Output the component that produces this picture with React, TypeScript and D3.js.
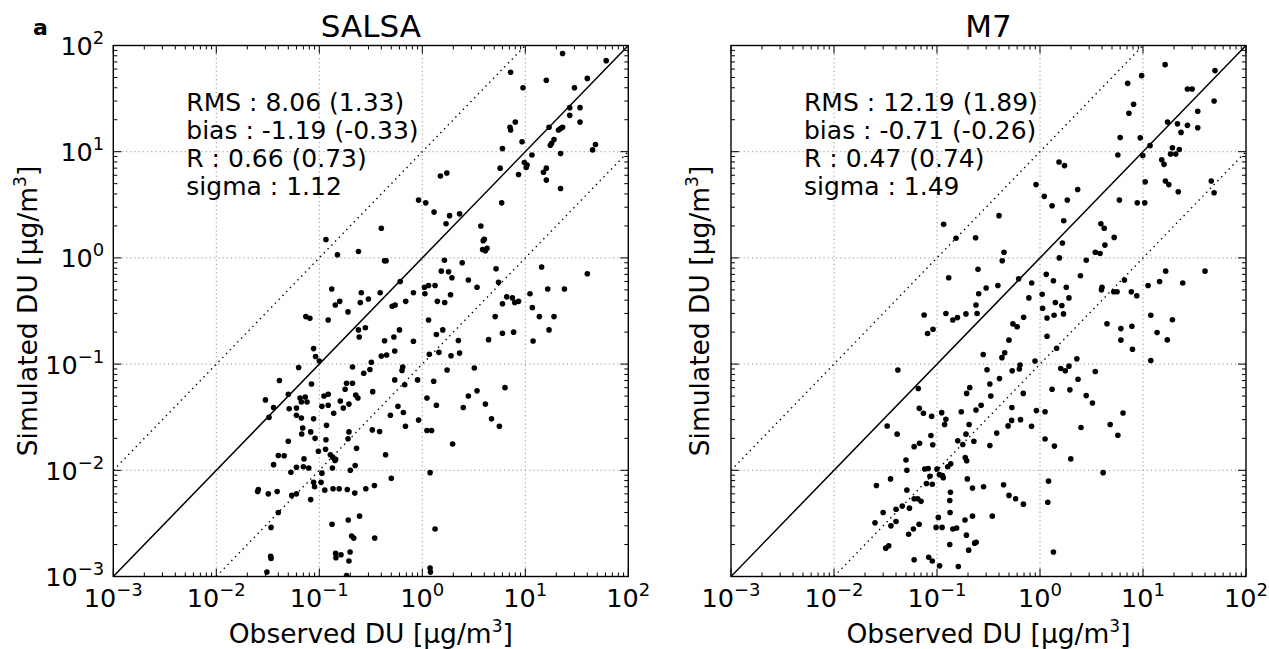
import * as d3 from 'd3'

const W = 1269, H = 649
const TOP = 45.5, BOTTOM = 576.5, PW = 515
const FONT = 'DejaVu Sans'

// decade exponents used for the log axes
const majorExps = [-3, -2, -1, 0, 1, 2]
const minorMult = [2, 3, 4, 5, 6, 7, 8, 9]

const salsaStats = ['RMS : 8.06 (1.33)', 'bias : -1.19 (-0.33)', 'R : 0.66 (0.73)', 'sigma : 1.12']
const m7Stats = ['RMS : 12.19 (1.89)', 'bias : -0.71 (-0.26)', 'R : 0.47 (0.74)', 'sigma : 1.49']

// [observed, simulated] in µg/m3
const salsaPoints: [number, number][] = [
  [23, 84], [61, 72], [7.2, 56], [16, 47], [40, 49], [9.5, 40], [30, 40], [27, 26], [34, 26], [27, 22],
  [34, 19], [8.0, 19], [7.1, 17], [7.2, 16], [17, 17], [23, 17], [21, 16], [22, 16.5], [19, 13], [18, 12],
  [17.5, 11.5], [9.3, 12.4], [48, 11.7], [45, 10.4], [6.0, 10.7], [11.6, 9.3], [22, 9.6], [9.8, 7.9], [10.4, 7.5], [10.2, 7.1],
  [5.7, 7.0], [16, 7.0], [15, 6.4], [16, 5.4], [8.6, 6.1], [22, 4.5], [1.73, 6.3], [1.5, 5.9], [5.9, 3.3], [0.92, 3.5],
  [1.08, 3.3], [1.3, 2.7], [1.84, 2.5], [2.3, 2.6], [1.7, 2.1], [0.40, 1.9], [3.7, 2.0], [4.0, 1.5], [3.9, 1.45], [3.85, 1.2],
  [4.25, 1.23], [4.1, 1.17], [0.116, 1.49], [0.24, 1.15], [0.15, 1.07], [0.43, 0.94], [0.445, 0.94], [1.64, 0.95], [2.44, 0.90], [0.61, 0.60],
  [1.53, 0.75], [1.8, 0.74], [1.94, 0.65], [2.8, 0.62], [5.2, 0.79], [5.5, 0.59], [14.4, 0.82], [40, 0.71], [0.132, 0.51], [0.256, 0.47],
  [0.39, 0.47], [1.05, 0.53], [1.15, 0.55], [1.33, 0.55], [0.82, 0.47], [1.06, 0.46], [1.88, 0.45], [3.4, 0.53], [11.1, 0.46], [16.5, 0.51],
  [24, 0.51], [6.6, 0.43], [7.5, 0.42],
  [0.143, 0.36], [0.158, 0.39], [0.25, 0.38], [0.30, 0.41], [0.51, 0.35], [0.545, 0.36], [0.69, 0.39], [1.4, 0.39], [1.65, 0.38], [6.0, 0.37],
  [7.9, 0.38], [8.6, 0.39], [11.7, 0.34], [0.19, 0.31], [0.074, 0.28], [0.081, 0.27], [0.122, 0.26], [5.1, 0.28], [13.7, 0.28], [19, 0.28],
  [1.15, 0.26], [0.24, 0.21], [0.28, 0.22], [0.244, 0.18], [0.60, 0.21], [1.37, 0.19], [1.58, 0.21], [6.0, 0.195], [7.7, 0.20], [17, 0.21],
  [0.53, 0.18], [0.43, 0.166], [0.82, 0.164], [2.24, 0.167], [4.4, 0.17], [11.9, 0.165], [0.088, 0.14], [0.092, 0.118], [0.54, 0.133], [0.40, 0.119],
  [0.45, 0.122], [1.17, 0.124], [1.45, 0.129], [1.9, 0.12], [2.3, 0.127], [0.10, 0.107], [0.063, 0.093], [0.21, 0.094], [0.32, 0.104], [0.31, 0.089],
  [0.27, 0.082], [0.645, 0.094], [0.635, 0.087], [1.74, 0.088], [3.2, 0.092], [0.041, 0.070], [0.184, 0.066], [0.21, 0.066], [0.54, 0.071], [0.90, 0.071],
  [1.29, 0.069], [0.084, 0.065], [0.675, 0.064], [0.178, 0.058], [0.33, 0.055], [6.35, 0.060], [3.4, 0.056], [0.050, 0.052], [0.030, 0.046], [0.065, 0.048],
  [0.073, 0.049], [0.067, 0.044], [0.076, 0.044], [0.111, 0.050], [0.122, 0.052], [0.226, 0.051], [0.237, 0.048], [0.16, 0.045], [1.11, 0.048], [2.8, 0.050],
  [0.036, 0.039], [0.051, 0.038], [0.060, 0.0385], [0.106, 0.040], [0.122, 0.041], [0.194, 0.042], [0.171, 0.0385], [0.58, 0.040], [1.37, 0.041], [2.5, 0.039],
  [4.1, 0.042], [0.0325, 0.0315], [0.060, 0.033], [0.067, 0.031], [0.088, 0.0305], [0.138, 0.0345], [0.49, 0.033], [0.655, 0.035], [4.7, 0.0305], [5.6, 0.026],
  [0.1175, 0.0265], [0.069, 0.025], [0.0675, 0.022], [0.0825, 0.023], [0.091, 0.020], [0.116, 0.0194], [0.194, 0.023], [0.19, 0.0198], [0.327, 0.024], [0.385, 0.0232],
  [0.686, 0.026], [0.92, 0.0297], [1.11, 0.0237], [1.23, 0.0237], [0.050, 0.0188], [1.97, 0.0177], [0.23, 0.0161], [0.098, 0.0151], [0.115, 0.0158], [0.128, 0.014],
  [0.135, 0.0133], [0.144, 0.0127], [0.142, 0.0124], [0.040, 0.0138], [0.0456, 0.0137], [0.44, 0.014], [0.036, 0.0113], [0.071, 0.0128], [0.060, 0.0107], [0.070, 0.0108],
  [0.079, 0.0105], [0.223, 0.0111], [0.053, 0.0096], [0.134, 0.0105], [0.20, 0.0100], [0.106, 0.0094], [1.19, 0.0095], [0.104, 0.0077], [0.088, 0.0077], [0.090, 0.0070],
  [0.50, 0.0084], [0.0256, 0.0066], [0.0252, 0.0063], [0.032, 0.0060], [0.039, 0.0063], [0.054, 0.0058], [0.060, 0.0060], [0.0825, 0.0053], [0.113, 0.0065], [0.136, 0.0067],
  [0.156, 0.0067], [0.187, 0.0066], [0.221, 0.0061], [0.283, 0.0067], [0.343, 0.0072], [0.040, 0.0040], [0.034, 0.0029], [0.133, 0.0031], [0.191, 0.0034], [0.246, 0.0037],
  [1.33, 0.0028], [0.206, 0.0024], [0.216, 0.0023], [0.345, 0.0023], [0.0337, 0.00155], [0.034, 0.00148], [0.144, 0.00165], [0.1625, 0.0016], [0.145, 0.0015], [0.199, 0.0017],
  [0.194, 0.0014], [0.031, 0.0011], [0.184, 0.00102], [1.19, 0.0012], [1.2, 0.0011],
]

const m7Points: [number, number][] = [
  [16.4, 66], [50, 58], [9.7, 52], [7.1, 44], [27, 39], [30, 39], [49, 30], [8.1, 28], [34, 24], [7.3, 23],
  [17.3, 19], [21.6, 18.3], [27, 17.7], [34, 16.8], [23.4, 15.2], [6.0, 13.6], [9.4, 13.5], [11.7, 11.4], [19.3, 10.9], [22.5, 10.5],
  [18.5, 9.5], [20.8, 9.5], [5.7, 9.3], [9.95, 9.2], [15.2, 8.4], [16, 7.6], [1.53, 8.0], [1.73, 7.4], [10.5, 5.2], [16.5, 5.3],
  [17.8, 4.9], [46, 5.3], [49, 4.1], [22, 4.2], [0.915, 4.9], [2.32, 4.4], [1.1, 3.8], [1.31, 3.1], [1.84, 3.5], [5.9, 3.5],
  [8.8, 3.3], [10.4, 3.3], [0.40, 2.5], [0.116, 2.07], [1.7, 2.24], [3.9, 2.1], [4.2, 1.9], [0.153, 1.53], [0.237, 1.55], [5.25, 1.56],
  [1.65, 1.38], [0.447, 1.13], [0.43, 0.94], [4.27, 1.32], [3.44, 1.13], [3.83, 1.1], [1.54, 1.0], [2.81, 0.95], [0.13, 0.65], [0.25, 0.78],
  [0.62, 0.635], [0.83, 0.58], [1.15, 0.70], [1.35, 0.61], [2.47, 0.68], [6.6, 0.62], [11.2, 0.55], [14.5, 0.60], [16.6, 0.75], [24.3, 0.58],
  [40, 0.75], [0.30, 0.52], [0.39, 0.55], [1.8, 0.53], [4.0, 0.53], [3.95, 0.50], [5.2, 0.48], [5.6, 0.48], [7.7, 0.48], [8.7, 0.44],
  [0.254, 0.46], [0.78, 0.42], [1.05, 0.455], [1.91, 0.42],
  [0.239, 0.36], [1.41, 0.38], [1.63, 0.356], [1.06, 0.336], [0.075, 0.29], [0.122, 0.30], [0.1425, 0.26], [0.158, 0.274], [0.191, 0.297], [0.245, 0.30],
  [1.17, 0.272], [1.37, 0.288], [1.69, 0.297], [0.693, 0.276], [0.546, 0.239], [0.60, 0.225], [4.47, 0.24], [6.1, 0.216], [7.8, 0.227], [11.9, 0.288],
  [19.3, 0.262], [13.7, 0.198], [17.2, 0.169], [6.1, 0.168], [7.9, 0.138], [0.081, 0.194], [0.0915, 0.213], [1.17, 0.183], [0.50, 0.168], [1.45, 0.141],
  [0.454, 0.128], [0.427, 0.115], [0.281, 0.123], [11.9, 0.108], [0.894, 0.107], [2.28, 0.112], [0.64, 0.098], [0.63, 0.090], [0.537, 0.0865], [1.59, 0.091],
  [1.76, 0.0866], [1.91, 0.0957], [3.44, 0.0853], [0.0417, 0.088], [0.306, 0.0884], [0.404, 0.073], [2.34, 0.072], [0.0658, 0.059], [0.208, 0.060], [0.194, 0.053],
  [0.326, 0.065], [0.333, 0.050], [1.31, 0.058], [1.95, 0.0572], [2.81, 0.0505], [0.688, 0.053], [3.23, 0.043], [0.0673, 0.0383], [0.0738, 0.0344], [0.0887, 0.0322],
  [0.111, 0.0349], [0.122, 0.0302], [0.1185, 0.027], [0.172, 0.0356], [0.239, 0.037], [0.268, 0.041], [0.533, 0.039], [0.922, 0.0365], [1.12, 0.0356], [6.4, 0.0346],
  [0.0328, 0.0261], [0.205, 0.027], [0.49, 0.0262], [0.53, 0.0295], [0.647, 0.030], [0.828, 0.026], [2.5, 0.0253], [4.8, 0.027], [5.7, 0.0214], [0.041, 0.0219],
  [0.0873, 0.0213], [0.191, 0.0219], [0.38, 0.0224], [1.12, 0.0197], [0.0677, 0.018], [0.060, 0.0167], [0.091, 0.0174], [0.159, 0.019], [0.178, 0.0175], [0.228, 0.0188],
  [0.326, 0.0171], [1.38, 0.0169], [0.050, 0.0125], [0.188, 0.0132], [0.194, 0.0123], [1.99, 0.0128], [0.051, 0.0100], [0.076, 0.0103], [0.082, 0.0104], [0.100, 0.0103],
  [0.127, 0.0108], [0.136, 0.0115], [0.1055, 0.0091], [0.113, 0.0089], [0.115, 0.0085], [0.0853, 0.0088], [4.1, 0.0095], [0.0258, 0.0072], [0.0354, 0.0083], [0.079, 0.0075],
  [0.090, 0.0074], [0.197, 0.0083], [0.221, 0.0068], [0.283, 0.0070], [0.443, 0.0073], [1.21, 0.0079], [0.051, 0.0065], [0.060, 0.0054], [0.065, 0.0054], [0.070, 0.0051],
  [0.135, 0.0062], [0.133, 0.0052], [0.50, 0.0058], [0.58, 0.0054], [0.69, 0.0048], [1.19, 0.0050], [0.030, 0.0040], [0.040, 0.0043], [0.046, 0.0046], [0.054, 0.0044],
  [0.134, 0.0040], [0.025, 0.0032], [0.0357, 0.0030], [0.040, 0.0033], [0.067, 0.0031], [0.059, 0.0028], [0.053, 0.0025], [0.103, 0.0036], [0.098, 0.0029], [0.112, 0.0029],
  [0.1425, 0.0028], [0.155, 0.00286], [0.187, 0.0034], [0.221, 0.0037], [0.344, 0.0037], [0.193, 0.00245], [0.0318, 0.00185], [0.034, 0.00195], [0.133, 0.0020], [0.203, 0.00177],
  [0.232, 0.00206], [0.24, 0.0021], [0.060, 0.00144], [0.083, 0.00152], [0.090, 0.0014], [0.106, 0.00126], [0.161, 0.00124], [1.35, 0.0017],
]

// exponent text as matplotlib's mathtext writes it (true minus sign)
const expLabel = (e: number) => (e < 0 ? '\u2212' + Math.abs(e) : String(e))

interface PanelProps {
  id: string
  x0: number
  title: string
  points: [number, number][]
  stats: string[]
  yTickLabels: boolean
}

function Panel({ id, x0, title, points, stats, yTickLabels }: PanelProps) {
  const x = d3.scaleLog().domain([1e-3, 1e2]).range([x0, x0 + PW])
  const y = d3.scaleLog().domain([1e-3, 1e2]).range([BOTTOM, TOP])
  const majors = majorExps.map(e => Math.pow(10, e))
  const minors = majorExps.slice(0, -1).flatMap(e => minorMult.map(m => m * Math.pow(10, e)))
  const line = d3.line<[number, number]>().x(d => x(d[0])).y(d => y(d[1]))
  const cx = x0 + PW / 2

  return (
    <g>
      <defs>
        <clipPath id={id}>
          <rect x={x0} y={TOP} width={PW} height={BOTTOM - TOP} />
        </clipPath>
      </defs>
      {/* grid */}
      {majors.slice(1, -1).map(v => (
        <g key={'g' + v} stroke="#777" strokeWidth={0.8} strokeDasharray="1.2 3">
          <line x1={x(v)} x2={x(v)} y1={TOP} y2={BOTTOM} />
          <line x1={x0} x2={x0 + PW} y1={y(v)} y2={y(v)} />
        </g>
      ))}
      {/* reference lines */}
      <g clipPath={`url(#${id})`} fill="none" stroke="#000">
        <path d={line([[1e-3, 1e-3], [1e2, 1e2]])!} strokeWidth={1.5} />
        <path d={line([[1e-3, 1e-2], [1e1, 1e2]])!} strokeWidth={1.4} strokeDasharray="1.4 4" />
        <path d={line([[1e-2, 1e-3], [1e2, 1e1]])!} strokeWidth={1.4} strokeDasharray="1.4 4" />
        {points.map((p, i) => (
          <circle key={i} cx={x(p[0])} cy={y(p[1])} r={2.8} fill="#000" stroke="none" />
        ))}
      </g>
      {/* ticks, inward on all four sides */}
      <g stroke="#000" strokeWidth={1}>
        {majors.map(v => (
          <g key={'M' + v}>
            <line x1={x(v)} x2={x(v)} y1={BOTTOM} y2={BOTTOM - 8} />
            <line x1={x(v)} x2={x(v)} y1={TOP} y2={TOP + 8} />
            <line x1={x0} x2={x0 + 8} y1={y(v)} y2={y(v)} />
            <line x1={x0 + PW} x2={x0 + PW - 8} y1={y(v)} y2={y(v)} />
          </g>
        ))}
        {minors.map(v => (
          <g key={'m' + v}>
            <line x1={x(v)} x2={x(v)} y1={BOTTOM} y2={BOTTOM - 4} />
            <line x1={x(v)} x2={x(v)} y1={TOP} y2={TOP + 4} />
            <line x1={x0} x2={x0 + 4} y1={y(v)} y2={y(v)} />
            <line x1={x0 + PW} x2={x0 + PW - 4} y1={y(v)} y2={y(v)} />
          </g>
        ))}
      </g>
      <rect x={x0} y={TOP} width={PW} height={BOTTOM - TOP} fill="none" stroke="#000" strokeWidth={1.4} />
      {/* tick labels */}
      <g fontFamily={FONT} fill="#000">
        {majorExps.map(e => (
          <text key={'xl' + e} x={x(Math.pow(10, e))} y={606.5} textAnchor="middle" fontSize={25.5}>
            <tspan>10</tspan>
            <tspan dy={-11} fontSize={18}>{expLabel(e)}</tspan>
          </text>
        ))}
        {yTickLabels && majorExps.map(e => (
          <text key={'yl' + e} x={x0 - 9} y={y(Math.pow(10, e)) + 9.5} textAnchor="end" fontSize={25.5}>
            <tspan>10</tspan>
            <tspan dy={-11} fontSize={18}>{expLabel(e)}</tspan>
          </text>
        ))}
      </g>
      {/* statistics */}
      <g fontFamily={FONT} fontSize={25} fill="#000">
        {stats.map((s, i) => (
          <text key={s} x={x0 + 73} y={111 + i * 28}>{s}</text>
        ))}
      </g>
      {/* titles and axis labels */}
      <text x={cx} y={37} textAnchor="middle" fontFamily={FONT} fontSize={31}>{title}</text>
      <text x={cx} y={643} textAnchor="middle" fontFamily={FONT} fontSize={26.5}>
        <tspan>Observed DU [μg/m</tspan>
        <tspan dy={-11} fontSize={17}>3</tspan>
        <tspan dy={11}>]</tspan>
      </text>
      <text
        transform={`translate(${yTickLabels ? x0 - 76 : x0 - 22},${(TOP + BOTTOM) / 2}) rotate(-90)`}
        textAnchor="middle" fontFamily={FONT} fontSize={26.5}
      >
        <tspan>Simulated DU [μg/m</tspan>
        <tspan dy={-11} fontSize={17}>3</tspan>
        <tspan dy={11}>]</tspan>
      </text>
    </g>
  )
}

export default function App() {
  return (
    <svg width={W} height={H} viewBox={`0 0 ${W} ${H}`}
      style={{ position: 'absolute', left: 0, top: 0, background: '#fff' }}>
      <rect width={W} height={H} fill="#fff" />
      <text x={33} y={35} fontFamily={FONT} fontWeight="bold" fontSize={22}>a</text>
      <Panel id="clipSalsa" x0={113.3} title="SALSA" points={salsaPoints} stats={salsaStats} yTickLabels />
      <Panel id="clipM7" x0={731} title="M7" points={m7Points} stats={m7Stats} yTickLabels={false} />
    </svg>
  )
}
